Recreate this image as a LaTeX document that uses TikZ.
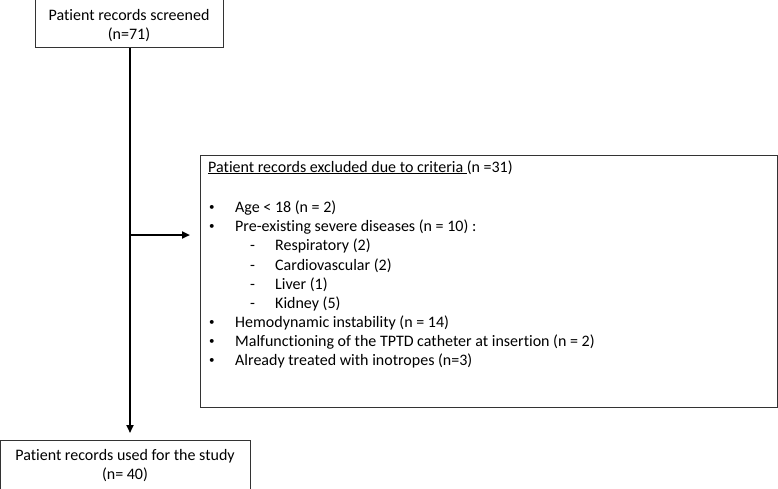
\documentclass[tikz,border=0pt]{standalone}
\usepackage{fontspec}
\setmainfont{Carlito}[Ligatures=NoCommon]
\usetikzlibrary{arrows.meta}
\begin{document}
\begin{tikzpicture}[x=1pt,y=-1pt,
  box/.style={draw=black!80,line width=0.9pt,inner sep=0pt},
  txt/.style={font=\fontsize{16}{19}\selectfont,inner sep=0pt,anchor=west,text height=11pt,text depth=3pt},
  bul/.style={font=\fontsize{11}{13}\selectfont,inner sep=0pt,anchor=west},
  ctxt/.style={font=\fontsize{16}{19}\selectfont,inner sep=0pt,align=center,text height=11pt,text depth=3pt},
  flow/.style={line width=2.4pt,-{Triangle[length=8pt,width=7pt]}}]
\useasboundingbox (0,0) rectangle (778,488);
% top box
\node[box,minimum width=188pt,minimum height=48pt,anchor=north west] (top) at (35,-1) {};
\node[ctxt] (t1) at (129,16) {Patient records screened};
\node[ctxt] (t2) at (129,35) {(n=71)};
% bottom box
\node[box,minimum width=250pt,minimum height=50pt,anchor=north west] (bot) at (0,440) {};
\node[ctxt] (b1) at (125,456) {Patient records used for the study};
\node[ctxt] (b2) at (125,475) {(n= 40)};
% excluded box
\node[box,minimum width=577pt,minimum height=252pt,anchor=north west] (exc) at (200,155) {};
\node[txt] (h) at (208,168) {\underline{Patient records excluded due to criteria }(n =31)};
\node[bul] (l1b) at (209,208) {•};
\node[txt] (l1) at (235,208) {Age < 18 (n = 2)};
\node[bul] (l2b) at (209,227) {•};
\node[txt] (l2) at (235,227) {Pre-existing severe diseases (n = 10) :};
\node[txt] (s1d) at (250,246) {-};
\node[txt] (s1) at (275,246) {Respiratory (2)};
\node[txt] (s2d) at (250,266) {-};
\node[txt] (s2) at (275,266) {Cardiovascular (2)};
\node[txt] (s3d) at (250,285) {-};
\node[txt] (s3) at (275,285) {Liver (1)};
\node[txt] (s4d) at (250,304) {-};
\node[txt] (s4) at (275,304) {Kidney (5)};
\node[bul] (l3b) at (209,323) {•};
\node[txt] (l3) at (235,323) {Hemodynamic instability (n = 14)};
\node[bul] (l4b) at (209,342) {•};
\node[txt] (l4) at (235,342) {Malfunctioning of the TPTD catheter at insertion (n = 2)};
\node[bul] (l5b) at (209,361) {•};
\node[txt] (l5) at (235,361) {Already treated with inotropes (n=3)};
% connectors
\coordinate (split) at (130,235);
\coordinate (tip) at (190,235);
\coordinate (btip) at (130,433);
\draw[flow] (top.south -| split) -- (btip);
\draw[flow] (split) -- (tip);
\end{tikzpicture}
\end{document}
